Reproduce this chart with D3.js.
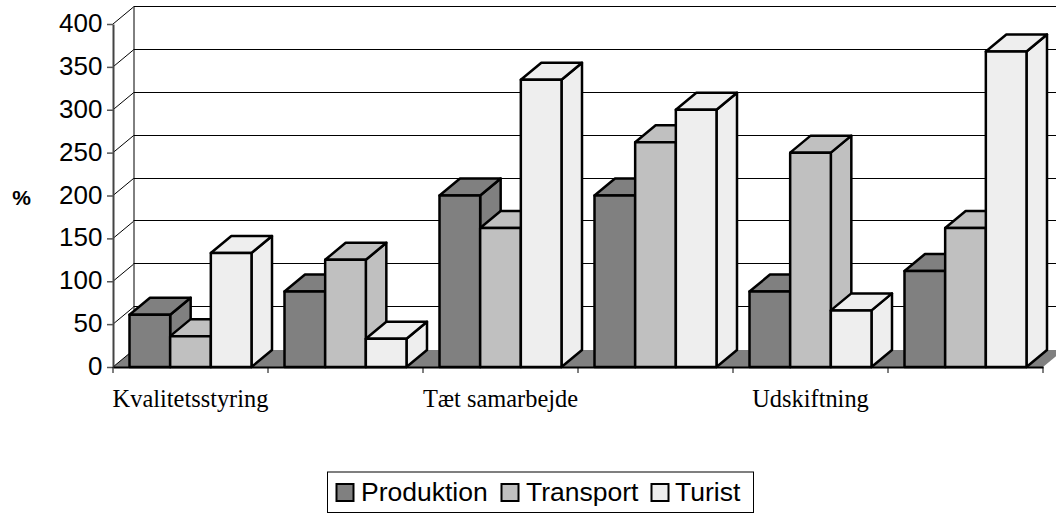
<!DOCTYPE html>
<html>
<head>
<meta charset="utf-8">
<script src="https://cdn.jsdelivr.net/npm/d3@7"></script>
<style>
  body { margin: 0; background: #fff; overflow: hidden; }
  svg { display: block; }
  text { fill: #000; }
  .sans { font-family: "Liberation Sans", Arial, sans-serif; }
  .serif { font-family: "Liberation Serif", "Times New Roman", serif; }
</style>
</head>
<body>
<div id="chart"></div>
<script>
// Only every second label is printed in the chart
var categories = ["Kvalitetsstyring", "", "Tæt samarbejde", "", "Udskiftning", ""];
var seriesNames = ["Produktion", "Transport", "Turist"];
var produktion = [61, 88, 200, 200, 88, 112];
var transport = [36, 125, 162, 262, 250, 162];
var turist = [133, 33, 335, 300, 66, 368];
var yTicks = [0, 50, 100, 150, 200, 250, 300, 350, 400];

var seriesValues = [produktion, transport, turist];
var colors = ["#808080", "#c0c0c0", "#eeeeee"];

var width = 1056;
var height = 513;
var depthX = 20.5;
var depthY = 17;

var svg = d3.select("#chart")
  .append("svg")
  .attr("width", width)
  .attr("height", height);

var x = d3.scaleBand()
  .domain(d3.range(categories.length))
  .range([113, 1043]);

var xBar = d3.scaleBand()
  .domain(d3.range(seriesNames.length))
  .range([16.5, 138.5]);

var y = d3.scaleLinear()
  .domain([0, 400])
  .range([367, 24]);

// Floor
var x0 = x.range()[0], x1 = x.range()[1];
svg.append("polygon")
  .attr("points", [[x0, y(0)], [x0 + depthX, y(0) - depthY], [x1 + depthX, y(0) - depthY], [x1, y(0)]].join(" "))
  .attr("fill", "#808080");

// Back wall
var grid = svg.append("g").attr("stroke", "#000").attr("stroke-width", 1).attr("fill", "none");
grid.selectAll("line.h")
  .data(yTicks.slice(1))
  .enter().append("line")
  .attr("class", "h")
  .attr("x1", x0 + depthX)
  .attr("x2", x1 + depthX)
  .attr("y1", function(d) { return Math.round(y(d) - depthY) - 0.5; })
  .attr("y2", function(d) { return Math.round(y(d) - depthY) - 0.5; });
grid.selectAll("line.d")
  .data(yTicks)
  .enter().append("line")
  .attr("class", "d")
  .attr("x1", x0)
  .attr("x2", x0 + depthX)
  .attr("y1", function(d) { return y(d); })
  .attr("y2", function(d) { return y(d) - depthY; });
grid.append("line")
  .attr("x1", x0 + depthX + 0.5)
  .attr("x2", x0 + depthX + 0.5)
  .attr("y1", y(400) - depthY)
  .attr("y2", y(0) - depthY);

// Y axis
var yAxis = svg.append("g")
  .attr("class", "sans")
  .attr("transform", "translate(" + x0 + ",0)")
  .call(d3.axisLeft(y).tickValues(yTicks).tickSize(6).tickPadding(4.5).tickSizeOuter(0));
yAxis.selectAll("text").attr("font-size", 26).attr("font-family", "Liberation Sans").attr("dy", "0.29em");
yAxis.select(".domain").attr("stroke", "#444").attr("stroke-width", 2);
yAxis.selectAll("line").attr("stroke", "#555").attr("stroke-width", 1.5);

// Bars
var bars = [];
categories.forEach(function(c, i) {
  seriesNames.forEach(function(s, j) {
    bars.push({group: i, series: j, value: seriesValues[j][i]});
  });
});

var bar = svg.append("g")
  .attr("stroke", "#000")
  .attr("stroke-width", 2.5)
  .attr("stroke-linejoin", "round")
  .selectAll("g")
  .data(bars)
  .enter().append("g")
  .attr("fill", function(d) { return colors[d.series]; });

function barLeft(d) { return x(d.group) + xBar(d.series); }

// side, top, front
bar.append("polygon").attr("points", function(d) {
  var r = barLeft(d) + xBar.bandwidth(), t = y(d.value), b = y(0);
  return [[r, b], [r + depthX, b - depthY], [r + depthX, t - depthY], [r, t]].join(" ");
});
bar.append("polygon").attr("points", function(d) {
  var l = barLeft(d), r = l + xBar.bandwidth(), t = y(d.value);
  return [[l, t], [l + depthX, t - depthY], [r + depthX, t - depthY], [r, t]].join(" ");
});
bar.append("rect")
  .attr("x", barLeft)
  .attr("y", function(d) { return y(d.value); })
  .attr("width", xBar.bandwidth())
  .attr("height", function(d) { return y(0) - y(d.value); });

// X axis
var xAxis = svg.append("g")
  .attr("transform", "translate(0," + y(0) + ")")
  .call(d3.axisBottom(x)
    .tickSize(0)
    .tickPadding(23)
    .tickFormat(function(d) { return categories[d]; }));
xAxis.selectAll("text").attr("font-size", 24.4).attr("font-family", "Liberation Serif");
xAxis.select(".domain").attr("stroke", "#000").attr("stroke-width", 2);
xAxis.selectAll("line.edge")
  .data(d3.range(categories.length + 1))
  .enter().append("line")
  .attr("class", "edge")
  .attr("stroke", "#000")
  .attr("x1", function(d) { return x0 + d * x.bandwidth(); })
  .attr("x2", function(d) { return x0 + d * x.bandwidth(); })
  .attr("y1", 0)
  .attr("y2", 6);

// Axis title
svg.append("text")
  .attr("class", "sans")
  .attr("x", 21.5)
  .attr("y", 205)
  .attr("text-anchor", "middle")
  .attr("font-size", 21)
  .attr("font-weight", "bold")
  .text("%");

// Legend
var legendX = [336.5, 501.5, 651.5];
var legendTextX = [361, 526, 675];
svg.append("rect")
  .attr("x", 327.5)
  .attr("y", 472)
  .attr("width", 426)
  .attr("height", 40.5)
  .attr("fill", "#fff")
  .attr("stroke", "#000");
var legend = svg.selectAll(".legend")
  .data(seriesNames)
  .enter().append("g")
  .attr("class", "legend");
legend.append("rect")
  .attr("x", function(d, i) { return legendX[i]; })
  .attr("y", 484)
  .attr("width", 17)
  .attr("height", 17)
  .attr("fill", function(d, i) { return colors[i]; })
  .attr("stroke", "#000")
  .attr("stroke-width", 2);
legend.append("text")
  .attr("class", "sans")
  .attr("x", function(d, i) { return legendTextX[i]; })
  .attr("y", 501)
  .attr("font-size", 26.5)
  .text(function(d) { return d; });
</script>
</body>
</html>
